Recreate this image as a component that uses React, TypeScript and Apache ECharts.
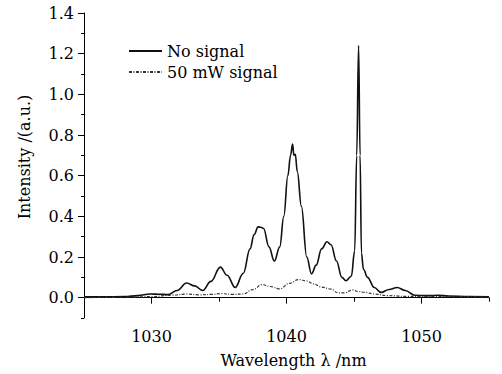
import React, { useEffect, useRef } from "react";
import * as echarts from "echarts";

const noSignalWl = [
  1025.0, 1026.5, 1028.0, 1029.0, 1029.9, 1030.6, 1031.2, 1031.9, 1032.6, 1033.2,
  1033.8, 1034.4, 1035.1, 1035.6, 1036.2, 1036.8, 1037.3, 1037.6, 1037.9, 1038.1,
  1038.3, 1038.7, 1039.1, 1039.5, 1039.8, 1040.1, 1040.3, 1040.45, 1040.55, 1040.65,
  1040.8, 1041.1, 1041.5, 1041.85, 1042.2, 1042.6, 1043.0, 1043.3, 1043.7, 1044.1,
  1044.4, 1044.8, 1045.05, 1045.2, 1045.34, 1045.45, 1045.55, 1045.7, 1046.0, 1046.5,
  1047.0, 1047.6, 1048.2, 1048.8, 1049.5, 1050.5, 1051.2, 1052.0, 1053.5, 1055.0,
];
const noSignalVal = [
  0.004, 0.004, 0.005, 0.01, 0.018, 0.017, 0.015, 0.035, 0.072, 0.058,
  0.035, 0.08, 0.15, 0.11, 0.05, 0.12, 0.24, 0.31, 0.348, 0.346,
  0.34, 0.25, 0.18, 0.25, 0.4, 0.6, 0.7, 0.755, 0.7, 0.705,
  0.62, 0.45, 0.2, 0.117, 0.16, 0.24, 0.275, 0.26, 0.18, 0.1,
  0.083, 0.105, 0.23, 0.7, 1.24, 0.7, 0.22, 0.14, 0.1, 0.05,
  0.026, 0.04, 0.05, 0.035, 0.012, 0.01, 0.012, 0.008, 0.005, 0.004,
];
const signalWl = [
  1025, 1028, 1030, 1031.5, 1032.6, 1033.5, 1034.5, 1035.1, 1036.0, 1036.8,
  1037.5, 1038.2, 1038.8, 1039.5, 1040.2, 1040.9, 1041.5, 1042.0, 1042.6, 1043.3,
  1043.8, 1044.3, 1044.9, 1045.3, 1045.8, 1046.5, 1047.5, 1049, 1051, 1053, 1055,
];
const signalVal = [
  0.0, 0.002, 0.005, 0.012, 0.018, 0.014, 0.016, 0.02, 0.016, 0.018,
  0.04, 0.064, 0.055, 0.043, 0.07, 0.089, 0.082, 0.068, 0.052, 0.042,
  0.024, 0.024, 0.038, 0.03, 0.026, 0.018, 0.01, 0.006, 0.006, 0.004, 0.003,
];
const seriesNames = ["No signal", "50 mW signal"];
const xMajorTicks = [1030, 1040, 1050];
const yMajorTicks = [0, 0.2, 0.4, 0.6, 0.8, 1.0, 1.2, 1.4];

const FONT = "'DejaVu Serif', 'Liberation Serif', serif";

export default function App() {
  const ref = useRef<HTMLDivElement>(null);
  useEffect(() => {
    document.body.style.margin = "0";
    if (!ref.current) return;
    const chart = echarts.init(ref.current, null, { renderer: "svg" });
    const zip = (xs: number[], ys: number[]) => xs.map((x, i) => [x, ys[i]]);
    const axisLine = { show: true, lineStyle: { color: "#000", width: 1 } };
    chart.setOption({
      animation: false,
      backgroundColor: "#fff",
      textStyle: { fontFamily: FONT, color: "#000" },
      grid: { left: 84, right: 13, top: 13, bottom: 56 },
      legend: {
        orient: "vertical",
        left: 123,
        top: 38,
        itemWidth: 33,
        itemHeight: 14,
        itemGap: 5,
        itemStyle: { opacity: 0 },
        textStyle: { fontFamily: FONT, fontSize: 16, color: "#000" },
        data: seriesNames,
      },
      xAxis: [
        {
          type: "value",
          min: 1025,
          max: 1055,
          interval: 5,
          axisLine,
          axisTick: { show: true, length: 4, lineStyle: { color: "#000" } },
          splitLine: { show: false },
          axisLabel: {
            margin: 10,
            fontSize: 16,
            fontFamily: FONT,
            color: "#000",
            formatter: (v: number) => (xMajorTicks.includes(Math.round(v)) ? String(Math.round(v)) : ""),
          },
          name: "Wavelength \u03bb /nm",
          nameLocation: "middle",
          nameGap: 34,
          nameTextStyle: { fontSize: 16, fontFamily: FONT, color: "#000", padding: [0, 0, 0, 14] },
        },
        {
          type: "value",
          min: 1025,
          max: 1055,
          position: "bottom",
          axisLine: { show: false },
          axisTick: { show: true, length: 6, customValues: xMajorTicks, lineStyle: { color: "#000" } },
          axisLabel: { show: false },
          splitLine: { show: false },
        },
      ],
      yAxis: [
        {
          type: "value",
          min: -0.1,
          max: 1.4,
          interval: 0.1,
          axisLine,
          axisTick: { show: true, length: 3, lineStyle: { color: "#000" } },
          splitLine: { show: false },
          axisLabel: {
            margin: 10,
            fontSize: 16,
            fontFamily: FONT,
            color: "#000",
            formatter: (v: number) => {
              const k = Math.round(v * 10);
              return k >= 0 && k % 2 === 0 ? (k / 10).toFixed(1) : "";
            },
          },
        },
        {
          type: "value",
          min: -0.1,
          max: 1.4,
          position: "left",
          axisLine: { show: false },
          axisTick: { show: true, length: 6, customValues: yMajorTicks, lineStyle: { color: "#000" } },
          axisLabel: { show: false },
          splitLine: { show: false },
        },
      ],
      graphic: [
        {
          type: "text",
          x: 24,
          y: 157,
          rotation: Math.PI / 2,
          style: {
            text: "Intensity /(a.u.)",
            fontFamily: FONT,
            fontSize: 16,
            fill: "#000",
            align: "center",
            verticalAlign: "middle",
          },
        },
      ],
      series: [
        {
          name: seriesNames[0],
          type: "line",
          data: zip(noSignalWl, noSignalVal),
          symbol: "none",
          smooth: 0.4,
          smoothMonotone: "x",
          lineStyle: { color: "#111", width: 1.6 },
          itemStyle: { color: "#111" },
        },
        {
          name: seriesNames[1],
          type: "line",
          data: zip(signalWl, signalVal),
          symbol: "none",
          smooth: 0.4,
          smoothMonotone: "x",
          lineStyle: { color: "#333", width: 1.2, type: [3, 1.5, 1, 1.5] },
          itemStyle: { color: "#333" },
        },
      ],
    });
    return () => chart.dispose();
  }, []);
  return <div ref={ref} style={{ width: 502, height: 374 }} />;
}
